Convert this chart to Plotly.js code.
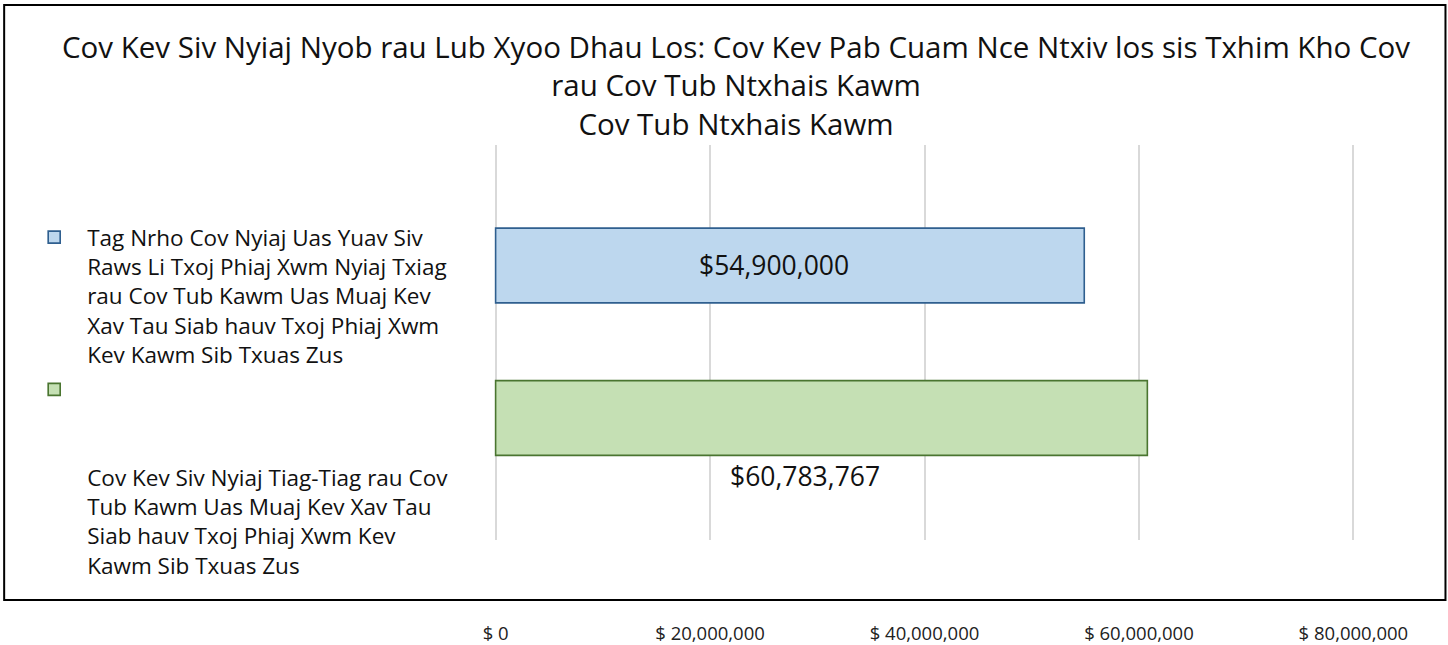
<!DOCTYPE html>
<html>
<head>
<meta charset="utf-8">
<script src="https://cdn.plot.ly/plotly-3.0.1.min.js"></script>
<style>html,body{margin:0;padding:0;background:#fff;}#chart{width:1448px;height:645px;}</style>
</head>
<body>
<div id="chart"></div>
<script>
// ---- data ----
const titleText = "Cov Kev Siv Nyiaj Nyob rau Lub Xyoo Dhau Los: Cov Kev Pab Cuam Nce Ntxiv los sis Txhim Kho Cov<br>rau Cov Tub Ntxhais Kawm<br>Cov Tub Ntxhais Kawm";
const categories = ["Budget", "Actual"];
const seriesNames = [
  "Tag Nrho Cov Nyiaj Uas Yuav Siv<br>Raws Li Txoj Phiaj Xwm Nyiaj Txiag<br>rau Cov Tub Kawm Uas Muaj Kev<br>Xav Tau Siab hauv Txoj Phiaj Xwm<br>Kev Kawm Sib Txuas Zus",
  "\u00a0<br>\u00a0<br>\u00a0<br>Cov Kev Siv Nyiaj Tiag-Tiag rau Cov<br>Tub Kawm Uas Muaj Kev Xav Tau<br>Siab hauv Txoj Phiaj Xwm Kev<br>Kawm Sib Txuas Zus"
];
const seriesValues = [54900000, 60783767];
const valueLabels = ["$54,900,000", "$60,783,767"];
const xTickValues = [0, 20000000, 40000000, 60000000, 80000000];
const xTickLabels = ["$ 0", "$ 20,000,000", "$ 40,000,000", "$ 60,000,000", "$ 80,000,000"];

// ---- style ----
const fills = ["#BDD7EE", "#C5E0B4"];
const lines = ["#2F5F8F", "#4A7530"];
const FONT = "'Open Sans', sans-serif";

const W = 1448, H = 645;
const xMin = -150000, xMax = 80150000;
const pxPerUnit = 214.25 / 20000000;
const L = 496 + xMin * pxPerUnit;
const PW = (xMax - xMin) * pxPerUnit;
const M = {l: L, r: W - L - PW, t: 145, b: 105};
const pw = W - M.l - M.r, ph = H - M.t - M.b;
const px = x => (x - M.l) / pw;
const py = y => 1 - (y - M.t) / ph;

const traces = categories.map((c, i) => ({
  type: "bar",
  orientation: "h",
  x: [seriesValues[i]],
  y: [c],
  name: seriesNames[i],
  legendgroup: "g" + i,
  width: 0.49,
  marker: {color: fills[i], line: {color: lines[i], width: 1.6}},
  textposition: "none",
  hoverinfo: "skip"
}));

const labelShiftY = [0, -58];

const layout = {
  width: W, height: H,
  margin: {l: M.l, r: M.r, t: M.t, b: M.b, pad: 0},
  paper_bgcolor: "#fff", plot_bgcolor: "#fff",
  font: {family: FONT, color: "#111"},
  barmode: "overlay",
  showlegend: true,
  title: {
    text: titleText,
    font: {family: FONT, size: 29.5, color: "#111"},
    x: 736 / W, xref: "container", xanchor: "center",
    y: 1 - 58 / H, yref: "container", yanchor: "top"
  },
  xaxis: {
    range: [xMin, xMax],
    tickvals: xTickValues,
    ticktext: xTickLabels,
    showgrid: true, gridcolor: "#D9D9D9", gridwidth: 2,
    zeroline: false, showline: false, ticks: "",
    ticklabelstandoff: 80,
    tickfont: {family: FONT, size: 18.5, color: "#222"},
    fixedrange: true
  },
  yaxis: {
    type: "category",
    categoryorder: "array",
    categoryarray: [categories[1], categories[0]],
    range: [-0.8, 1.79],
    showticklabels: false, showgrid: false, zeroline: false, showline: false, ticks: "",
    fixedrange: true
  },
  legend: {
    x: px(22), xref: "paper", xanchor: "left",
    y: py(216), yref: "paper", yanchor: "top",
    traceorder: "grouped",
    tracegroupgap: 3,
    valign: "top",
    itemwidth: 56,
    font: {family: FONT, size: 22.5, color: "#111"},
    bgcolor: "rgba(0,0,0,0)",
    itemclick: false, itemdoubleclick: false
  },
  annotations: categories.map((c, i) => ({
    x: seriesValues[i] / 2, y: c, xref: "x", yref: "y",
    text: valueLabels[i], showarrow: false,
    xshift: -16, yshift: labelShiftY[i],
    font: {family: FONT, size: 26.5, color: "#111"}
  })),
  shapes: [{
    type: "rect", xref: "paper", yref: "paper",
    x0: px(5), x1: px(1445), y0: py(5), y1: py(600),
    line: {color: "#000", width: 2}, fillcolor: "rgba(0,0,0,0)", layer: "below"
  }]
};

Plotly.newPlot("chart", traces, layout, {displayModeBar: false, staticPlot: true});
</script>
</body>
</html>
